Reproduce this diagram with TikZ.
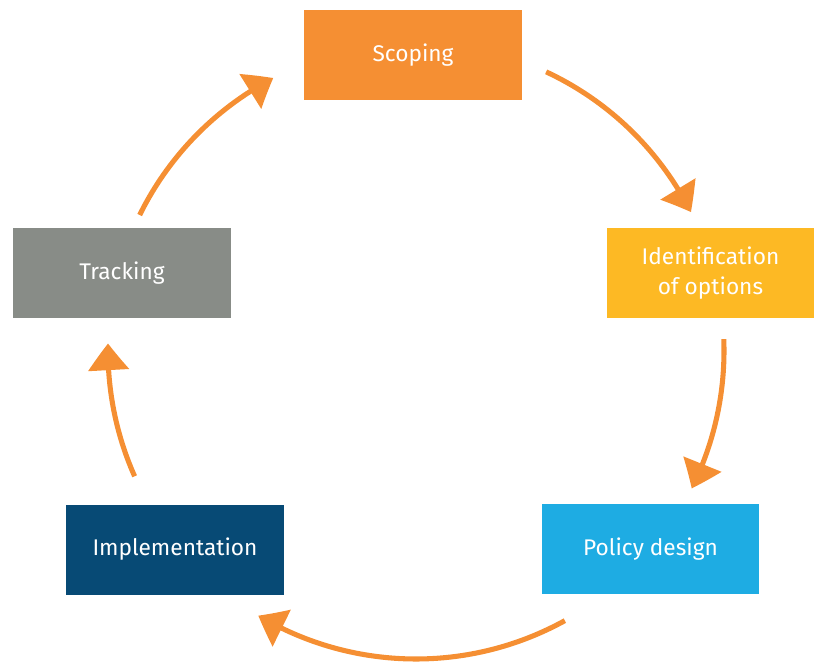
\documentclass[tikz,border=0pt]{standalone}
\usepackage{fontspec}
\setmainfont{Fira Sans}
\usepackage{xcolor}
\usetikzlibrary{arrows.meta,bending}

\definecolor{scopeorange}{RGB}{245,143,51}
\definecolor{optyellow}{RGB}{253,185,36}
\definecolor{policyblue}{RGB}{30,172,227}
\definecolor{implblue}{RGB}{7,74,117}
\definecolor{trackgrey}{RGB}{136,140,135}

\tikzset{
  stagebox/.style={fill=#1, text=white, inner sep=0pt, align=center,
    minimum width=163pt, minimum height=67.5pt,
    font=\fontsize{17}{22}\selectfont},
  cyclearrow/.style={draw=scopeorange, line width=3.8pt,
    -{Triangle[length=20pt,width=30pt,bend]}}
}

\begin{document}
\begin{tikzpicture}[x=0.75pt,y=0.75pt,yscale=-1,xscale=1]
\useasboundingbox (0,0) rectangle (814,661);

%Shape: Stage boxes
\node [stagebox=scopeorange] (scoping) at (413,55) {Scoping};
\node [stagebox=optyellow, minimum width=155pt] (options) at (710.5,273) {Identification\\of options};
\node [stagebox=policyblue] (policy) at (650.5,549) {Policy design};
\node [stagebox=implblue] (implement) at (175,549.5) {Implementation};
\node [stagebox=trackgrey] (tracking) at (122,273) {Tracking};

%Centre of the cycle
\coordinate (hub) at (416,351);

%Arrow ends on the cycle
\path (hub) ++(-153.8:308) coordinate (trackOut);
\path (hub) ++(-65:308) coordinate (scopeOut);
\path (hub) ++(-2.2:308) coordinate (optOut);
\path (hub) ++(61.1:308) coordinate (policyOut);
\path (hub) ++(156:308) coordinate (implOut);

%Curved Arrows
\draw [cyclearrow] (trackOut) arc [start angle=-153.8, end angle=-117.6, radius=308];
\draw [cyclearrow] (scopeOut) arc [start angle=-65, end angle=-26.8, radius=308];
\draw [cyclearrow] (optOut) arc [start angle=-2.2, end angle=26.5, radius=308];
\draw [cyclearrow] (policyOut) arc [start angle=61.1, end angle=120.8, radius=308];
\draw [cyclearrow] (implOut) arc [start angle=156, end angle=181.4, radius=308];

\end{tikzpicture}
\end{document}
